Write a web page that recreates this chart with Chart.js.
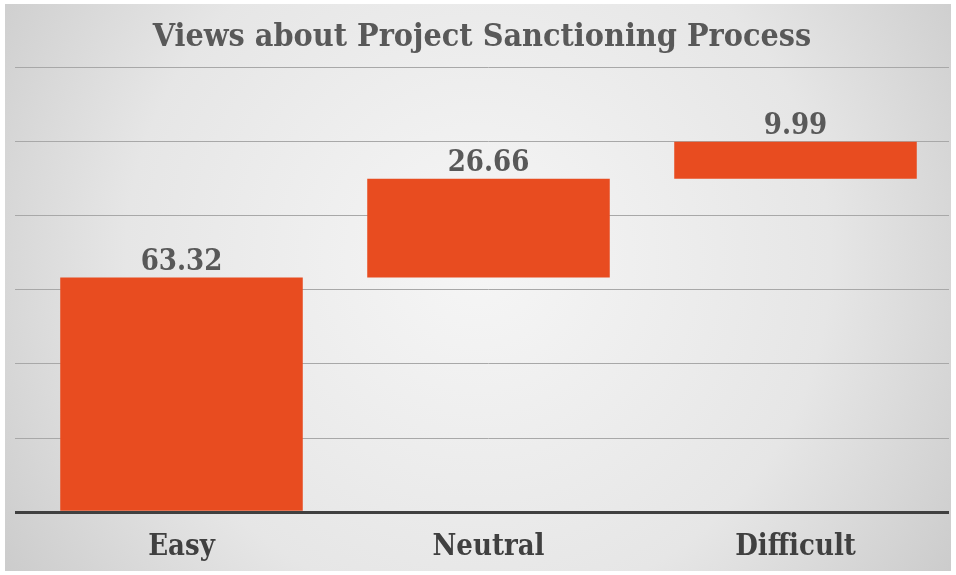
<!DOCTYPE html>
<html>
<head>
<meta charset="utf-8">
<script src="https://cdn.jsdelivr.net/npm/chart.js@4"></script>
<style>
  html, body { margin: 0; padding: 0; background: #fff; }
  #wrap { width: 956px; height: 575px; }
</style>
</head>
<body>
<div id="wrap"><canvas id="myChart" width="956" height="575"></canvas></div>
<script>
const categories = ["Easy", "Neutral", "Difficult"]
const values = [63.32, 26.66, 9.99]
const valueLabels = ["63.32", "26.66", "9.99"]
const yTicks = [0, 20, 40, 60, 80, 100, 120]

// waterfall: each bar starts where the previous one ended
let running = 0
const floating = values.map(v => {
  const bar = [running, running + v]
  running += v
  return bar
})

const serif = "'DejaVu Serif Condensed', 'DejaVu Serif', serif"

const backdrop = {
  id: 'backdrop',
  beforeDraw(chart) {
    const { ctx, width, height } = chart
    ctx.save()
    ctx.fillStyle = '#ffffff'
    ctx.fillRect(0, 0, width, height)
    const g = ctx.createRadialGradient(width / 2, height * 0.45, 20, width / 2, height * 0.45, width * 0.6)
    g.addColorStop(0, '#f5f5f5')
    g.addColorStop(0.6, '#e6e6e6')
    g.addColorStop(1, '#cbcbcb')
    ctx.fillStyle = g
    ctx.fillRect(5, 4, width - 10, height - 8)
    ctx.restore()
  }
}

const barLabels = {
  id: 'barLabels',
  afterDatasetsDraw(chart) {
    const { ctx } = chart
    const meta = chart.getDatasetMeta(0)
    ctx.save()
    ctx.fillStyle = '#595959'
    ctx.font = "bold 29px " + serif
    ctx.textAlign = 'center'
    ctx.textBaseline = 'bottom'
    meta.data.forEach((bar, i) => {
      ctx.fillText(valueLabels[i], bar.x, bar.y - 1)
    })
    ctx.restore()
  }
}

const myChart = new Chart(document.getElementById('myChart'), {
  type: 'bar',
  data: {
    labels: categories,
    datasets: [{
      data: floating,
      backgroundColor: '#E84C20',
      borderWidth: 0,
      barPercentage: 0.79,
      categoryPercentage: 1
    }]
  },
  options: {
    responsive: false,
    animation: false,
    layout: { padding: { left: 15, right: 7, top: 0, bottom: 0 } },
    plugins: {
      legend: { display: false },
      tooltip: { enabled: false },
      title: {
        display: true,
        text: 'Views about Project Sanctioning Process',
        color: '#595959',
        font: { family: serif, size: 32, weight: 'bold' },
        padding: { top: 18, bottom: 11 }
      }
    },
    scales: {
      x: {
        grid: { display: false },
        border: { display: false },
        ticks: {
          color: '#404040',
          padding: 10,
          font: { family: serif, size: 29, weight: 'bold' }
        }
      },
      y: {
        min: 0,
        max: 120,
        afterBuildTicks: axis => { axis.ticks = yTicks.map(v => ({ value: v })) },
        border: { display: false },
        grid: {
          drawTicks: true,
          tickLength: 13,
          color: c => c.tick && c.tick.value === 0 ? '#404040' : '#a8a8a8',
          lineWidth: c => c.tick && c.tick.value === 0 ? 3 : 1
        },
        ticks: { display: false }
      }
    }
  },
  plugins: [backdrop, barLabels]
})
</script>
</body>
</html>
